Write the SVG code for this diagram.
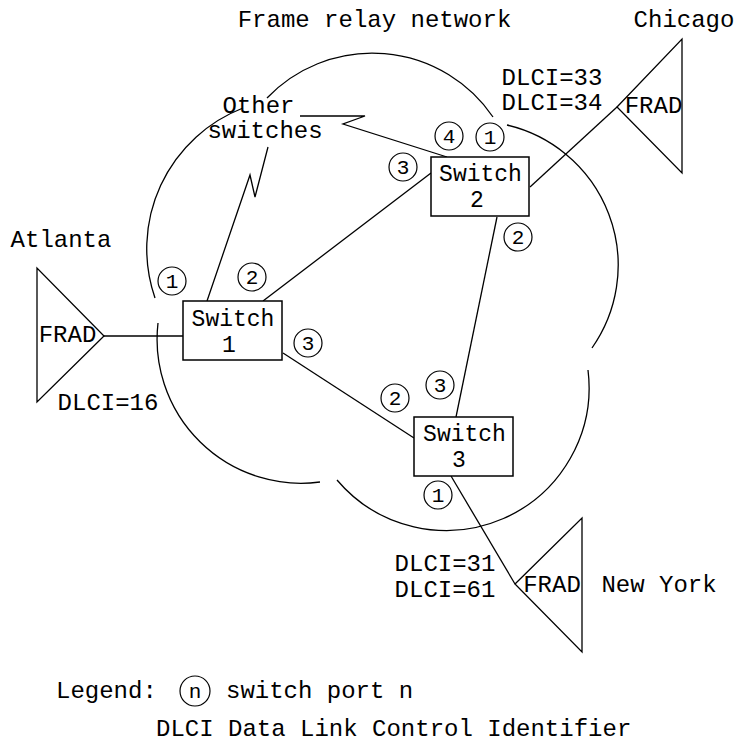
<svg xmlns="http://www.w3.org/2000/svg" width="736" height="743" viewBox="0 0 736 743">
<style>
.ln{fill:none;stroke:#000;stroke-width:1.3}
.bx{fill:#fff;stroke:#000;stroke-width:1.5}
.tri{fill:none;stroke:#000;stroke-width:1.3}
.pt{fill:#fff;stroke:#000;stroke-width:1.2}
text{font-family:"Liberation Mono","DejaVu Sans Mono",monospace;font-size:24px;fill:#000}
.c{text-anchor:middle}
.sw{font-size:23px;text-anchor:middle}
.pd{font-size:21px;text-anchor:middle}
</style>
<rect width="736" height="743" fill="#fff"/>
<g id="cloud">
<path class="ln" d="M267,98 A146,146 0 0 1 493,117"/>
<path class="ln" d="M243,108 A151,151 0 0 0 155,298"/>
<path class="ln" d="M158,323 A144,144 0 0 0 320,482"/>
<path class="ln" d="M337,480 A143,143 0 0 0 588,370"/>
<path class="ln" d="M507,125 A144,144 0 0 1 592,348"/>
<text class="c" x="374.5" y="27">Frame relay network</text>
</g>
<g id="connectors">
<path class="ln" d="M104,336 L183,336"/>
<path class="ln" d="M207,301 L250,175 L255,197 L268,147"/>
<path class="ln" d="M447,157 L343,124 L365,116 L300,116"/>
<path class="ln" d="M263,301 L431,173"/>
<path class="ln" d="M283,353 L414,438"/>
<path class="ln" d="M497,217 L456,417"/>
<path class="ln" d="M530,187 L617,107"/>
<path class="ln" d="M451,476 L515,584"/>
</g>
<g id="other-switches">
<text class="c" x="258.5" y="113">Other</text>
<text class="c" x="265" y="138">switches</text>
</g>
<g id="atlanta">
<polygon class="tri" points="37,268 37,402 104,336"/>
<text class="c" x="61" y="247">Atlanta</text>
<text class="c" x="67.5" y="342">FRAD</text>
<text class="c" x="108" y="410">DLCI=16</text>
</g>
<g id="chicago">
<polygon class="tri" points="617,107 682,39 682,173"/>
<text class="c" x="684" y="27">Chicago</text>
<text class="c" x="653.5" y="113">FRAD</text>
<text class="c" x="552" y="85">DLCI=33</text>
<text class="c" x="552" y="110">DLCI=34</text>
</g>
<g id="newyork">
<polygon class="tri" points="515,584 582,518 582,652"/>
<text class="c" x="552" y="592">FRAD</text>
<text class="c" x="659" y="592">New York</text>
<text class="c" x="445" y="571">DLCI=31</text>
<text class="c" x="445" y="597">DLCI=61</text>
</g>
<g id="switch1">
<rect class="bx" x="183" y="301" width="99" height="59"/>
<text class="sw" x="233" y="326">Switch</text>
<text class="sw" x="229" y="352">1</text>
</g>
<g id="switch2">
<rect class="bx" x="431" y="157" width="98" height="59"/>
<text class="sw" x="480.5" y="181">Switch</text>
<text class="sw" x="477" y="207">2</text>
</g>
<g id="switch3">
<rect class="bx" x="414" y="417" width="99" height="59"/>
<text class="sw" x="464.5" y="441">Switch</text>
<text class="sw" x="459" y="467">3</text>
</g>
<g id="ports">
<g id="s1p1"><circle class="pt" cx="172" cy="281" r="14"/><text class="pd" x="172" y="288">1</text></g>
<g id="s1p2"><circle class="pt" cx="252" cy="277" r="14"/><text class="pd" x="252" y="284">2</text></g>
<g id="s1p3"><circle class="pt" cx="308" cy="343" r="14"/><text class="pd" x="308" y="350">3</text></g>
<g id="s2p4"><circle class="pt" cx="449" cy="136" r="14"/><text class="pd" x="449" y="143">4</text></g>
<g id="s2p1"><circle class="pt" cx="490" cy="137" r="14"/><text class="pd" x="490" y="144">1</text></g>
<g id="s2p3"><circle class="pt" cx="403" cy="167" r="14"/><text class="pd" x="403" y="174">3</text></g>
<g id="s2p2"><circle class="pt" cx="518" cy="237" r="14"/><text class="pd" x="518" y="244">2</text></g>
<g id="s3p3"><circle class="pt" cx="440" cy="385" r="14"/><text class="pd" x="440" y="392">3</text></g>
<g id="s3p2"><circle class="pt" cx="395" cy="398" r="14"/><text class="pd" x="395" y="405">2</text></g>
<g id="s3p1"><circle class="pt" cx="438" cy="495" r="14"/><text class="pd" x="438" y="502">1</text></g>
</g>
<g id="legend">
<text x="56" y="698">Legend:</text>
<circle class="pt" cx="195" cy="691" r="15"/>
<text class="pd" x="195" y="698">n</text>
<text x="226" y="698">switch port n</text>
<text x="156" y="736">DLCI Data Link Control Identifier</text>
</g>
</svg>
